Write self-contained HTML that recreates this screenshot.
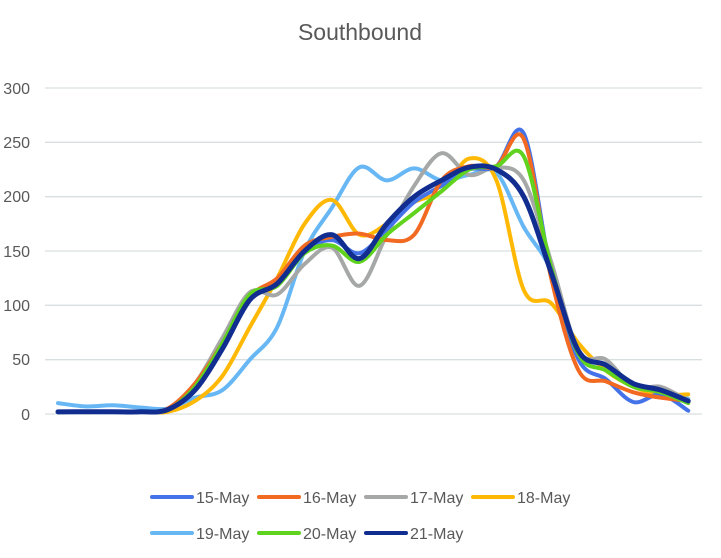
<!DOCTYPE html>
<html><head><meta charset="utf-8"><style>
body{margin:0;background:#fff;}
svg{display:block;font-family:"Liberation Sans",sans-serif;}
</style></head><body>
<svg id="c" width="721" height="558" viewBox="0 0 721 558" xmlns="http://www.w3.org/2000/svg">
<text x="360" y="40" text-anchor="middle" font-size="23" fill="#595959">Southbound</text>
<g stroke="#d9dfe0" stroke-width="1.3">
<line x1="45" x2="702" y1="88" y2="88"/><line x1="45" x2="702" y1="142.3" y2="142.3"/>
<line x1="45" x2="702" y1="196.7" y2="196.7"/><line x1="45" x2="702" y1="251" y2="251"/>
<line x1="45" x2="702" y1="305.3" y2="305.3"/><line x1="45" x2="702" y1="359.7" y2="359.7"/>
<line x1="45" x2="702" y1="414" y2="414"/>
</g>
<g font-size="16" fill="#595959" text-anchor="end">
<text x="30" y="94">300</text><text x="30" y="148">250</text><text x="30" y="202">200</text>
<text x="30" y="257">150</text><text x="30" y="311">100</text><text x="30" y="365">50</text><text x="30" y="420">0</text>
</g>
<g id="series" fill="none" stroke-linecap="round" stroke-linejoin="round"></g>
<g font-size="16" fill="#595959">
<line x1="152" x2="192" y1="497" y2="497" stroke="#4472e8" stroke-width="4" stroke-linecap="round"/><text x="196" y="503">15-May</text>
<line x1="259" x2="299" y1="497" y2="497" stroke="#f26a21" stroke-width="4" stroke-linecap="round"/><text x="303" y="503">16-May</text>
<line x1="366" x2="406" y1="497" y2="497" stroke="#a5a8a6" stroke-width="4" stroke-linecap="round"/><text x="410" y="503">17-May</text>
<line x1="473" x2="513" y1="497" y2="497" stroke="#ffb905" stroke-width="4" stroke-linecap="round"/><text x="517" y="503">18-May</text>
<line x1="152" x2="192" y1="533" y2="533" stroke="#68b7f5" stroke-width="4" stroke-linecap="round"/><text x="196" y="539">19-May</text>
<line x1="259" x2="299" y1="533" y2="533" stroke="#5fd31d" stroke-width="4" stroke-linecap="round"/><text x="303" y="539">20-May</text>
<line x1="366" x2="406" y1="533" y2="533" stroke="#102d8f" stroke-width="4" stroke-linecap="round"/><text x="410" y="539">21-May</text>
</g>
</svg>
<script>
var S=[
["#68b7f5",4,[10,7,8,6,5,15,22,50,80,150,190,227,215,226,215,220,222,172,132,55,40,25,22,14]],
["#ffb905",4,[2,2,2,2,2,12,35,80,125,175,197,165,175,195,205,235,215,114,102,65,40,25,18,18]],
["#a5a8a6",4,[2,2,2,2,4,28,70,112,110,138,153,118,165,210,240,220,227,215,140,58,50,25,25,12]],
["#4472e8",4,[2,2,2,2,4,25,62,105,120,150,160,148,170,195,210,225,228,258,130,50,32,11,18,3]],
["#f26a21",4,[2,2,2,2,5,28,65,108,125,155,163,166,160,165,215,228,228,253,125,40,30,20,15,12]],
["#5fd31d",4,[2,2,2,2,4,25,65,110,118,148,155,140,165,185,205,225,228,237,135,55,40,25,20,10]],
["#102d8f",5,[2,2,2,2,4,22,60,105,120,150,165,143,175,200,215,227,225,200,130,58,45,28,22,12]]
];
var g=document.getElementById('series'),ns="http://www.w3.org/2000/svg";
S.forEach(function(s){
 var p=s[2].map(function(v,i){return [58+27.4*i,414-v*1.0867];});
 var d="M"+p[0][0]+","+p[0][1];
 for(var i=0;i<p.length-1;i++){
  var a=p[Math.max(i-1,0)],b=p[i],c=p[i+1],e=p[Math.min(i+2,p.length-1)];
  var c1=[b[0]+(c[0]-a[0])/6,b[1]+(c[1]-a[1])/6],c2=[c[0]-(e[0]-b[0])/6,c[1]-(e[1]-b[1])/6];
  d+="C"+c1[0].toFixed(1)+","+c1[1].toFixed(1)+" "+c2[0].toFixed(1)+","+c2[1].toFixed(1)+" "+c[0].toFixed(1)+","+c[1].toFixed(1);
 }
 var el=document.createElementNS(ns,"path");
 el.setAttribute("d",d);el.setAttribute("stroke",s[0]);el.setAttribute("stroke-width",s[1]);
 g.appendChild(el);
});
</script>
</body></html>
